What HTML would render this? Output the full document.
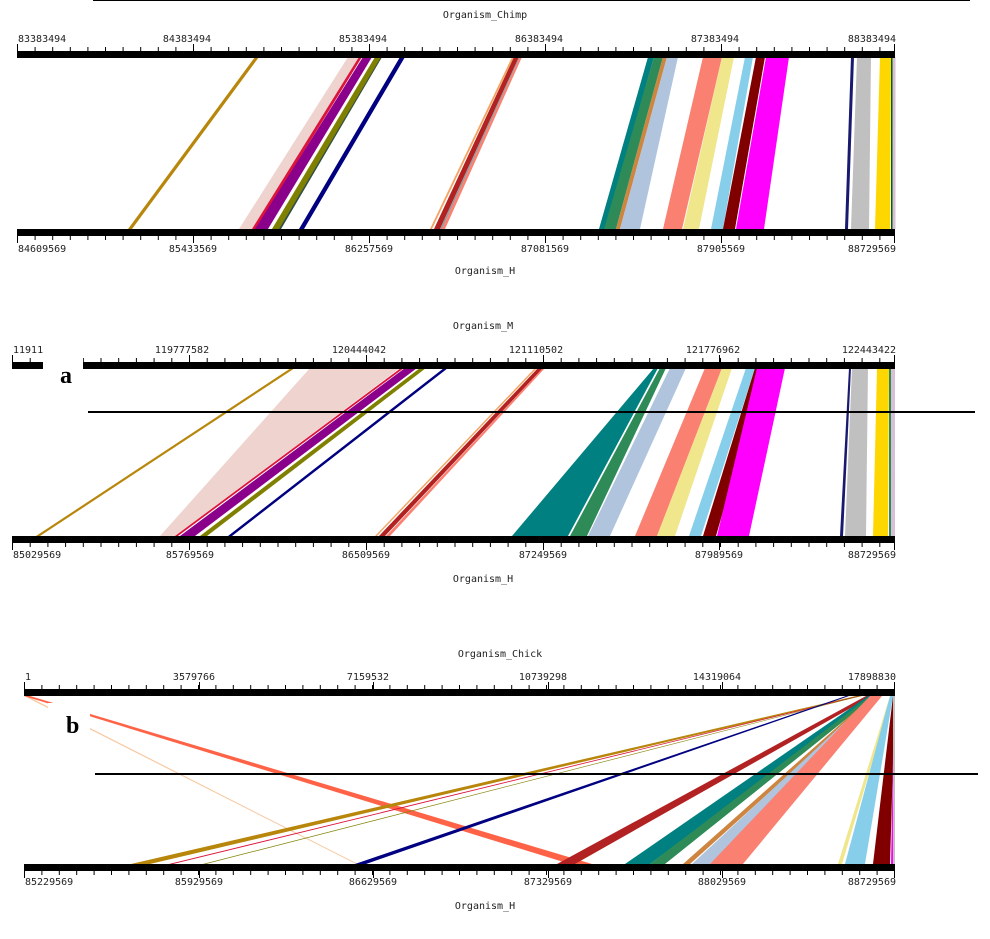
<!DOCTYPE html>
<html><head><meta charset="utf-8"><style>
html,body{margin:0;padding:0;background:#fff}
svg{display:block}
text{font-family:"DejaVu Sans Mono","Liberation Mono",monospace;font-size:10px;fill:#222}
.lab{font-family:"Liberation Serif",serif;font-weight:bold;font-size:24px;fill:#000}
</style></head><body>
<svg width="990" height="939" viewBox="0 0 990 939" xmlns="http://www.w3.org/2000/svg">
<defs>
<pattern id="t1" patternUnits="userSpaceOnUse" x="17" y="0" width="17.6" height="939"><rect x="0" y="0" width="1" height="939" fill="#000"/></pattern>
<pattern id="t2" patternUnits="userSpaceOnUse" x="12" y="0" width="17.7" height="939"><rect x="0" y="0" width="1" height="939" fill="#000"/></pattern>
<pattern id="t3" patternUnits="userSpaceOnUse" x="24" y="0" width="17.4" height="939"><rect x="0" y="0" width="1" height="939" fill="#000"/></pattern>
</defs>
<rect width="990" height="939" fill="#fff"/>
<rect x="93" y="0" width="877" height="1" fill="#000"/>

<!-- PANEL 1 -->
<g>
<polygon points="255,57 259,57 132,229 128,229" fill="#B8860B"/>
<polygon points="348,57 360,57 253,229 239,229" fill="#EED3CE"/>
<polygon points="359,57 362,57 256,229 252,229" fill="#DC143C"/>
<polygon points="363,57 372,57 268,229 255,229" fill="#8B008B"/>
<polygon points="375,57 382,57 281,229 272,229" fill="#808000"/>
<polygon points="381,57 382,57 281,229 279,229" fill="#2F4F4F"/>
<polygon points="400,57 405,57 304,229 299,229" fill="#000080"/>
<polygon points="512,57 514,57 432,229 430,229" fill="#F4A460"/>
<polygon points="514,57 519,57 440,229 434,229" fill="#B22222"/>
<polygon points="519,57 520,57 442,229 440,229" fill="#999"/>
<polygon points="520,57 522,57 445,229 442,229" fill="#FA8072"/>
<polygon points="648,57 654,57 605,229 599,229" fill="#008080"/>
<polygon points="654,57 663,57 616,229 604,229" fill="#2E8B57"/>
<polygon points="663,57 667,57 620,229 616,229" fill="#CD853F"/>
<polygon points="667,57 678,57 640,229 620,229" fill="#B0C4DE"/>
<polygon points="703,57 722,57 682,229 663,229" fill="#FA8072"/>
<polygon points="722,57 734,57 699,229 683,229" fill="#F0E68C"/>
<polygon points="745,57 753,57 723,229 711,229" fill="#87CEEB"/>
<polygon points="756,57 765,57 735,229 723,229" fill="#800000"/>
<polygon points="766,57 789,57 764,229 736,229" fill="#FF00FF"/>
<polygon points="851,57 854,57 848,229 845,229" fill="#191970"/>
<polygon points="857,57 871,57 869,229 851,229" fill="#C0C0C0"/>
<polygon points="880,57 891,57 890,229 875,229" fill="#FFD700"/>
<rect x="891" y="57" width="1.5" height="172" fill="#006400"/>
<rect x="892.5" y="57" width="3" height="172" fill="#D8BFD8"/>
<rect x="17" y="51" width="878" height="7" fill="#000"/>
<rect x="17" y="229" width="878" height="7" fill="#000"/>
<rect x="17" y="47" width="879" height="4" fill="url(#t1)"/>
<rect x="17" y="236" width="879" height="4" fill="url(#t1)"/>
<g fill="#000"><rect x="17" y="44" width="1" height="7"/><rect x="193" y="44" width="1" height="7"/><rect x="369" y="44" width="1" height="7"/><rect x="545" y="44" width="1" height="7"/><rect x="721" y="44" width="1" height="7"/><rect x="894" y="44" width="1" height="7"/>
<rect x="17" y="236" width="1" height="7"/><rect x="193" y="236" width="1" height="7"/><rect x="369" y="236" width="1" height="7"/><rect x="545" y="236" width="1" height="7"/><rect x="721" y="236" width="1" height="7"/><rect x="894" y="236" width="1" height="7"/></g>
<text x="485" y="18" text-anchor="middle">Organism_Chimp</text>
<text x="18" y="42">83383494</text><text x="187" y="42" text-anchor="middle">84383494</text><text x="363" y="42" text-anchor="middle">85383494</text><text x="539" y="42" text-anchor="middle">86383494</text><text x="715" y="42" text-anchor="middle">87383494</text><text x="896" y="42" text-anchor="end">88383494</text>
<text x="18" y="252">84609569</text><text x="193" y="252" text-anchor="middle">85433569</text><text x="369" y="252" text-anchor="middle">86257569</text><text x="545" y="252" text-anchor="middle">87081569</text><text x="721" y="252" text-anchor="middle">87905569</text><text x="896" y="252" text-anchor="end">88729569</text>
<text x="485" y="274" text-anchor="middle">Organism_H</text>
</g>

<!-- PANEL 2 -->
<g>
<polygon points="291,368 295,368 40,536 36,536" fill="#B8860B"/>
<polygon points="310,368 400,368 175,536 160,536" fill="#EED3CE"/>
<polygon points="401,368 404,368 178,536 175,536" fill="#DC143C"/>
<polygon points="405,368 417,368 195,536 180,536" fill="#8B008B"/>
<polygon points="420,368 426,368 207,536 200,536" fill="#808000"/>
<polygon points="444,368 448,368 232,536 228,536" fill="#000080"/>
<polygon points="535,368 537,368 377,536 375,536" fill="#F4A460"/>
<polygon points="538,368 543,368 385,536 379,536" fill="#B22222"/>
<polygon points="543,368 545,368 390,536 386,536" fill="#FA8072"/>
<polygon points="654,368 658,368 568,536 512,536" fill="#008080"/>
<polygon points="660,368 666,368 587,536 570,536" fill="#2E8B57"/>
<polygon points="670,368 686,368 610,536 588,536" fill="#B0C4DE"/>
<polygon points="705,368 722,368 657,536 635,536" fill="#FA8072"/>
<polygon points="722,368 732,368 675,536 657,536" fill="#F0E68C"/>
<polygon points="746,368 755,368 701,536 689,536" fill="#87CEEB"/>
<polygon points="755,368 764,368 716,536 703,536" fill="#800000"/>
<polygon points="757,368 785,368 749,536 717,536" fill="#FF00FF"/>
<polygon points="849,368 851,368 843,536 840,536" fill="#191970"/>
<polygon points="852,368 868,368 866,536 845,536" fill="#C0C0C0"/>
<polygon points="877,368 889,368 888,536 873,536" fill="#FFD700"/>
<rect x="889" y="368" width="2" height="168" fill="#2E8B57"/>
<rect x="891" y="368" width="4" height="168" fill="#D8BFD8"/>
<rect x="12" y="362" width="883" height="7" fill="#000"/>
<rect x="12" y="536" width="883" height="7" fill="#000"/>
<rect x="12" y="358" width="884" height="4" fill="url(#t2)"/>
<rect x="12" y="543" width="884" height="4" fill="url(#t2)"/>
<g fill="#000"><rect x="12" y="355" width="1" height="7"/><rect x="189" y="355" width="1" height="7"/><rect x="366" y="355" width="1" height="7"/><rect x="543" y="355" width="1" height="7"/><rect x="719" y="355" width="1" height="7"/><rect x="894" y="355" width="1" height="7"/>
<rect x="12" y="543" width="1" height="7"/><rect x="189" y="543" width="1" height="7"/><rect x="366" y="543" width="1" height="7"/><rect x="543" y="543" width="1" height="7"/><rect x="719" y="543" width="1" height="7"/><rect x="894" y="543" width="1" height="7"/></g>
<text x="483" y="329" text-anchor="middle">Organism_M</text>
<text x="13" y="353">119111133</text><text x="182" y="353" text-anchor="middle">119777582</text><text x="359" y="353" text-anchor="middle">120444042</text><text x="536" y="353" text-anchor="middle">121110502</text><text x="713" y="353" text-anchor="middle">121776962</text><text x="896" y="353" text-anchor="end">122443422</text>
<text x="13" y="558">85029569</text><text x="190" y="558" text-anchor="middle">85769569</text><text x="366" y="558" text-anchor="middle">86509569</text><text x="543" y="558" text-anchor="middle">87249569</text><text x="719" y="558" text-anchor="middle">87989569</text><text x="896" y="558" text-anchor="end">88729569</text>
<text x="483" y="582" text-anchor="middle">Organism_H</text>
<rect x="43" y="346" width="40" height="8" fill="#fff"/>
<rect x="43" y="355" width="40" height="16" fill="#fff"/>
<text class="lab" x="60" y="383">a</text>
<rect x="88" y="411" width="887" height="2" fill="#000"/>
</g>

<!-- PANEL 3 -->
<g>
<polygon points="24,696 27,696 358,864 356,864" fill="#F4A460" opacity="0.6"/>
<polygon points="24,696 30,696 592,864 570,864" fill="#FF6347"/>
<polygon points="856,696 862,696 150,864 131,864" fill="#B8860B"/>
<polygon points="858,696 861,696 173,864 169,864" fill="#DC143C"/>
<polygon points="859,696 861,696 206,864 203,864" fill="#808000"/>
<polygon points="846,696 849,696 366,864 355,864" fill="#000080"/>
<polygon points="866,696 872,696 575,864 557,864" fill="#B22222"/>
<polygon points="868,696 874,696 650,864 625,864" fill="#008080"/>
<polygon points="870,696 875,696 665,864 650,864" fill="#2E8B57"/>
<polygon points="872,696 876,696 690,864 683,864" fill="#CD853F"/>
<polygon points="873,696 878,696 710,864 692,864" fill="#B0C4DE"/>
<polygon points="870,696 882,696 743,864 710,864" fill="#FA8072"/>
<polygon points="890,696 892,696 842,864 838,864" fill="#F0E68C"/>
<polygon points="890,696 893,696 865,864 845,864" fill="#87CEEB"/>
<polygon points="893,696 895,696 890,864 873,864" fill="#800000"/>
<polygon points="894,696 895,696 893,864 891,864" fill="#FF00FF"/>
<rect x="893" y="696" width="2" height="168" fill="#C0C0C0"/>
<rect x="24" y="689" width="871" height="7" fill="#000"/>
<rect x="24" y="864" width="871" height="7" fill="#000"/>
<rect x="24" y="685" width="872" height="4" fill="url(#t3)"/>
<rect x="24" y="871" width="872" height="4" fill="url(#t3)"/>
<g fill="#000"><rect x="24" y="682" width="1" height="7"/><rect x="199" y="682" width="1" height="7"/><rect x="373" y="682" width="1" height="7"/><rect x="548" y="682" width="1" height="7"/><rect x="722" y="682" width="1" height="7"/><rect x="894" y="682" width="1" height="7"/>
<rect x="24" y="871" width="1" height="7"/><rect x="199" y="871" width="1" height="7"/><rect x="373" y="871" width="1" height="7"/><rect x="548" y="871" width="1" height="7"/><rect x="722" y="871" width="1" height="7"/><rect x="894" y="871" width="1" height="7"/></g>
<text x="500" y="657" text-anchor="middle">Organism_Chick</text>
<text x="25" y="680">1</text><text x="194" y="680" text-anchor="middle">3579766</text><text x="368" y="680" text-anchor="middle">7159532</text><text x="543" y="680" text-anchor="middle">10739298</text><text x="717" y="680" text-anchor="middle">14319064</text><text x="896" y="680" text-anchor="end">17898830</text>
<text x="25" y="885">85229569</text><text x="199" y="885" text-anchor="middle">85929569</text><text x="373" y="885" text-anchor="middle">86629569</text><text x="548" y="885" text-anchor="middle">87329569</text><text x="722" y="885" text-anchor="middle">88029569</text><text x="896" y="885" text-anchor="end">88729569</text>
<text x="485" y="909" text-anchor="middle">Organism_H</text>
<rect x="48" y="703" width="42" height="50" fill="#fff"/>
<text class="lab" x="66" y="733">b</text>
<rect x="95" y="773" width="883" height="2" fill="#000"/>
</g>
</svg>
</body></html>
